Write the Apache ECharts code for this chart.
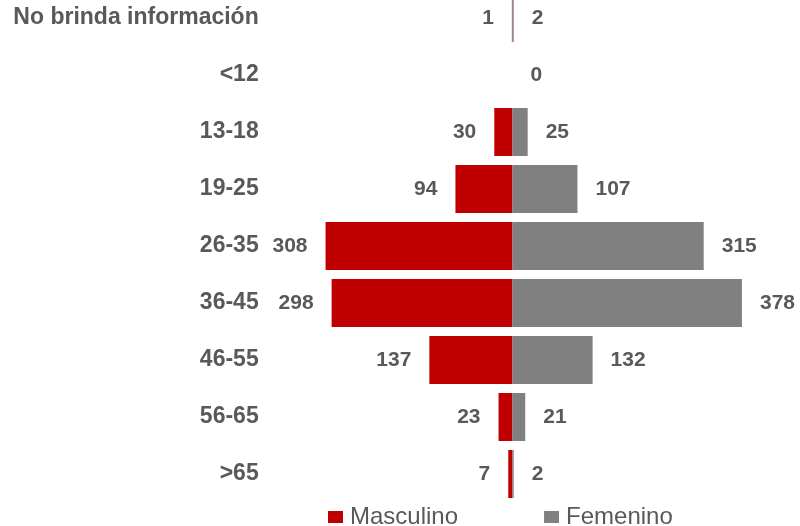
<!DOCTYPE html>
<html>
<head>
<meta charset="utf-8">
<script src="https://cdn.jsdelivr.net/npm/echarts@6/dist/echarts.min.js"></script>
<style>html,body{margin:0;padding:0;background:#fff;}#c{width:800px;height:526px;}</style>
</head>
<body>
<div id="c"></div>
<script>
const categories = ['No brinda información', '<12', '13-18', '19-25', '26-35', '36-45', '46-55', '56-65', '>65'];
const masculino = [1, 0, 30, 94, 308, 298, 137, 23, 7];
const femenino = [2, 0, 25, 107, 315, 378, 132, 21, 2];
const seriesNames = ['Masculino', 'Femenino'];

const FONT = "'Liberation Sans', Arial, sans-serif";
const chart = echarts.init(document.getElementById('c'));
chart.setOption({
  animation: false,
  backgroundColor: '#fff',
  grid: { left: 269.7, width: 485.6, top: 18, height: 456, containLabel: false },
  xAxis: { type: 'value', min: -400, max: 400, show: false },
  yAxis: {
    type: 'category', data: categories, inverse: true, boundaryGap: false,
    axisLine: { show: false }, axisTick: { show: false }, splitLine: { show: false },
    axisLabel: { margin: 11, color: '#595959', fontFamily: FONT, fontWeight: 'bold', fontSize: 23 }
  },
  legend: {
    data: seriesNames, left: 328, top: 505, padding: 0, itemWidth: 15, itemHeight: 12, itemGap: 86,
    icon: 'rect',
    textStyle: { color: '#595959', fontFamily: FONT, fontSize: 24, padding: [0, 0, 0, 2] }
  },
  series: [
    {
      name: seriesNames[0], type: 'bar', barWidth: 48, barGap: '-100%',
      itemStyle: { color: '#C00000' },
      data: masculino.map(v => -v),
      label: {
        show: true, position: 'left', distance: 18, color: '#595959',
        fontFamily: FONT, fontWeight: 'bold', fontSize: 21,
        formatter: p => (p.value === 0 ? '' : String(Math.abs(p.value)))
      }
    },
    {
      name: seriesNames[1], type: 'bar', barWidth: 48, barGap: '-100%',
      itemStyle: { color: '#808080' },
      data: femenino,
      label: {
        show: true, position: 'right', distance: 18, color: '#595959',
        fontFamily: FONT, fontWeight: 'bold', fontSize: 21,
        formatter: p => String(Math.abs(p.value))
      }
    }
  ]
});
</script>
</body>
</html>
